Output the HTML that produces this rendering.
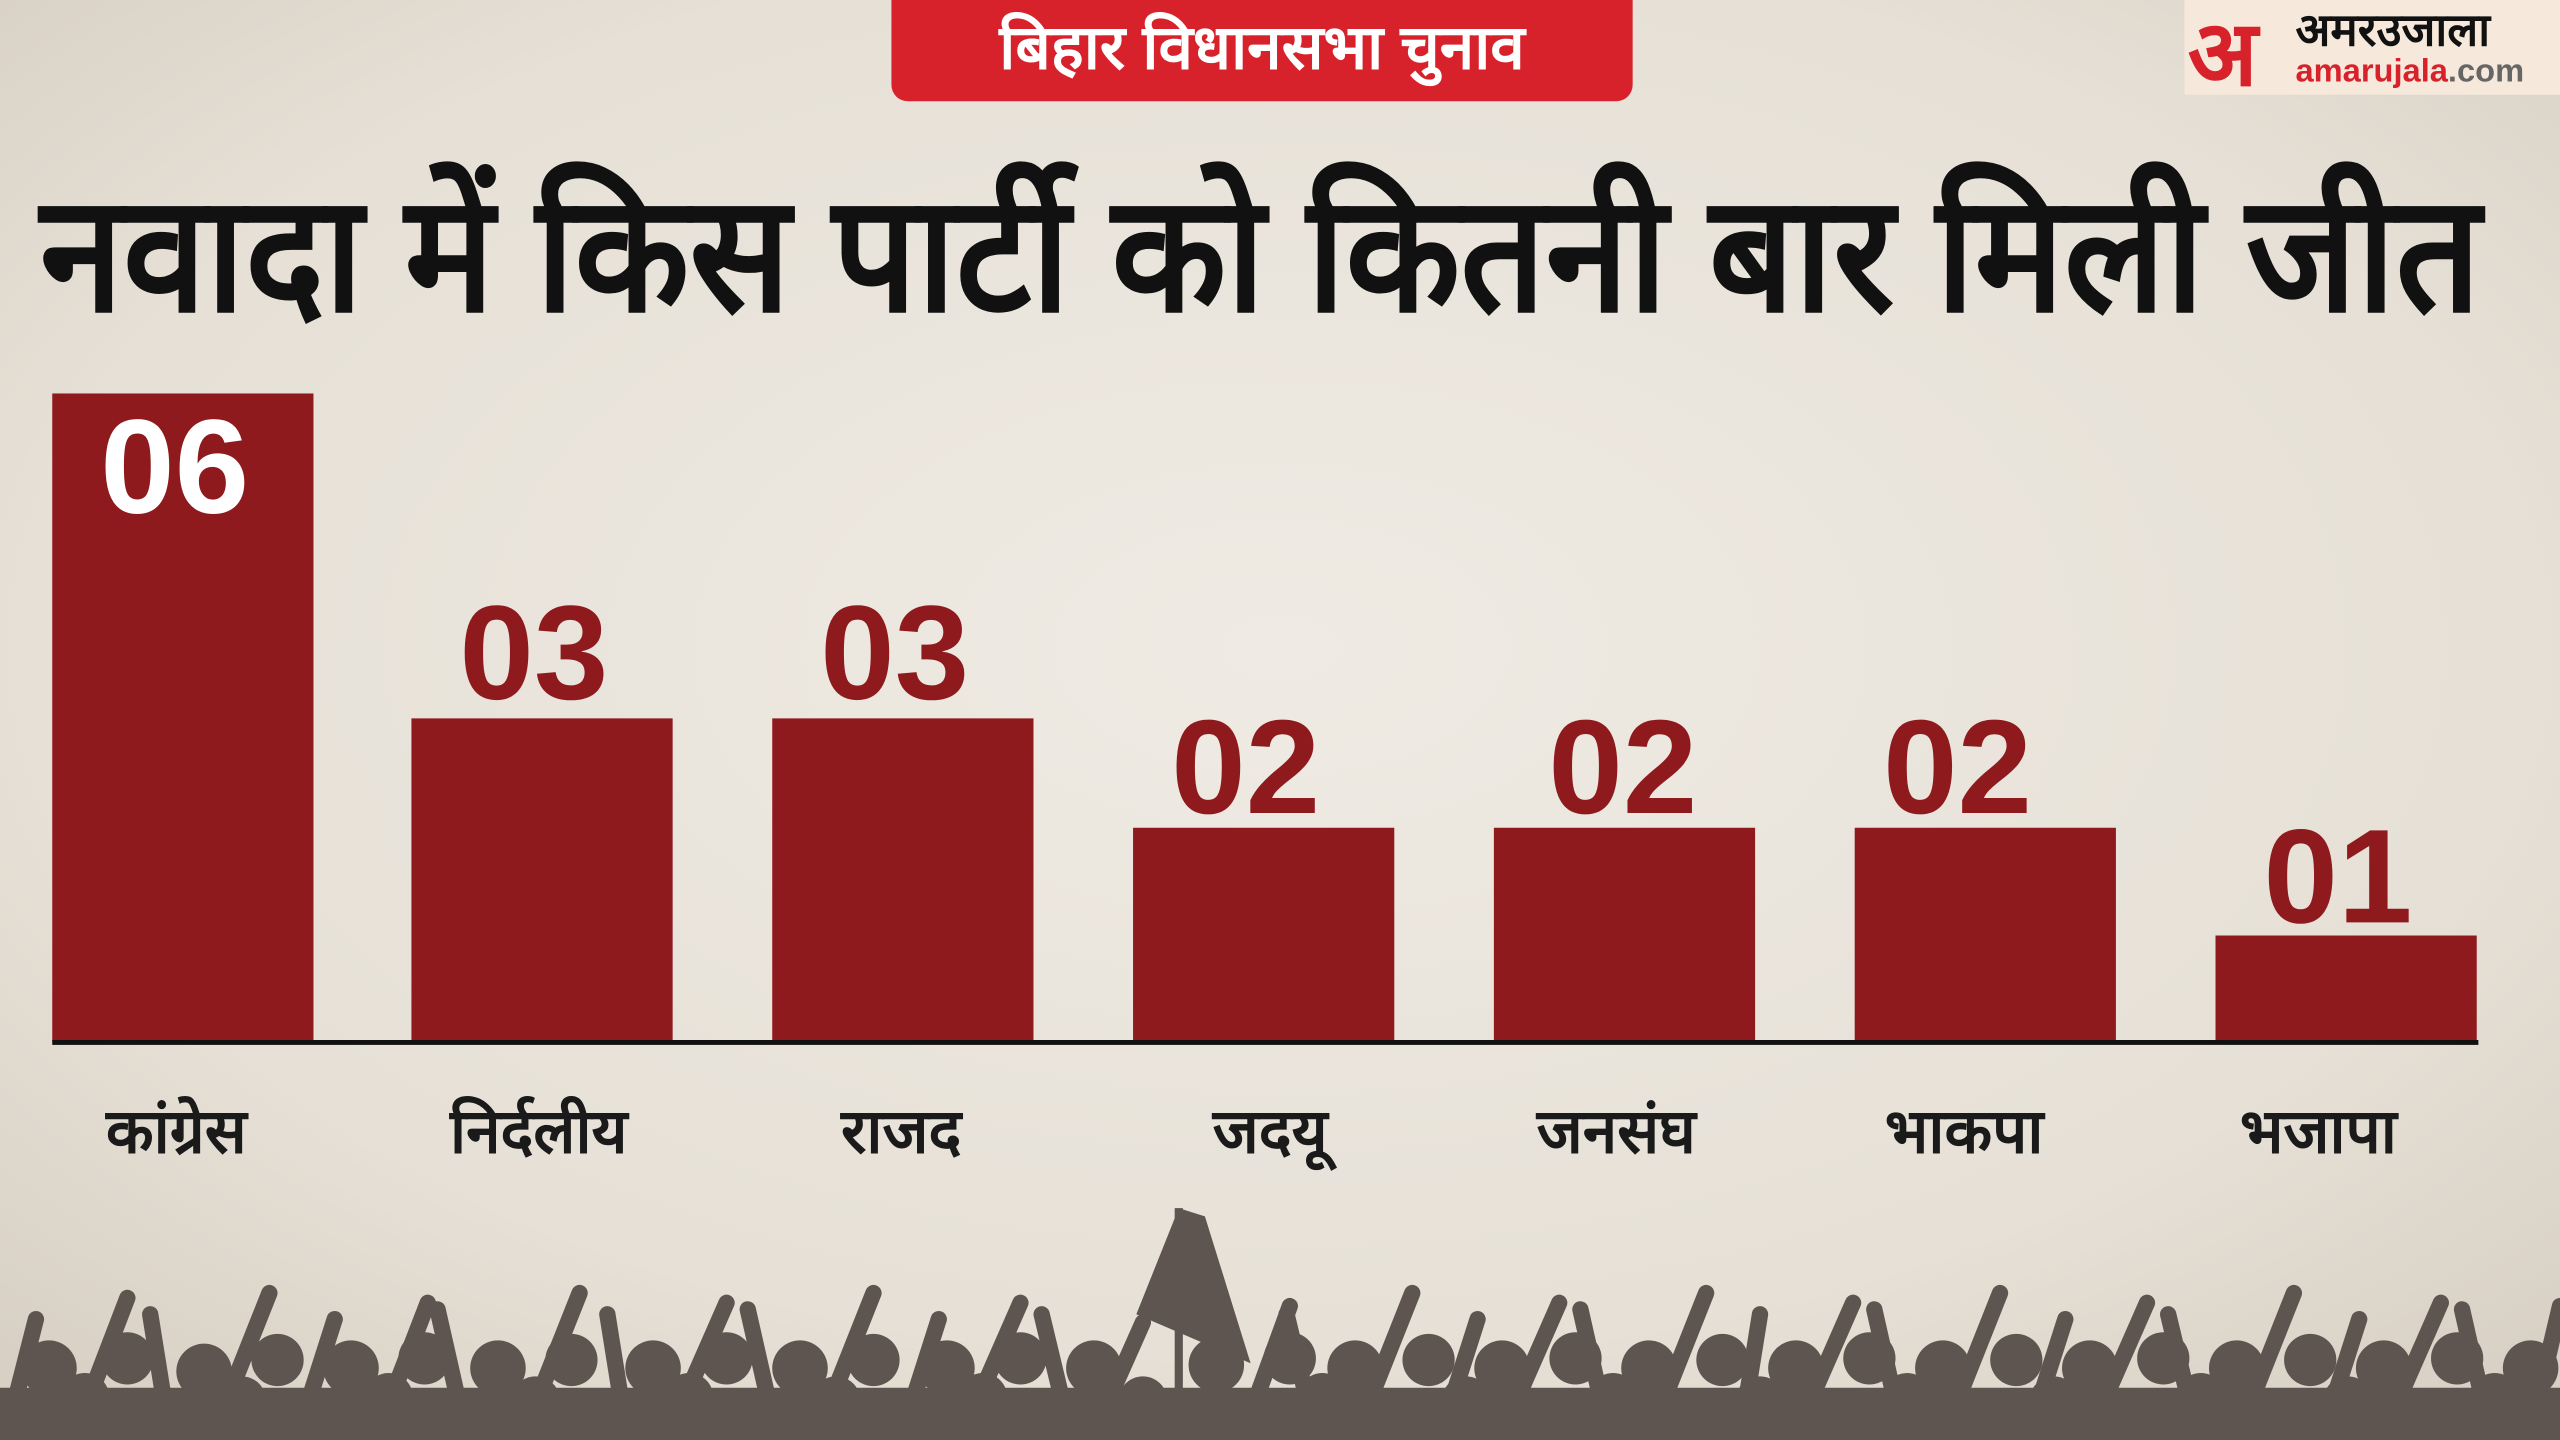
<!DOCTYPE html>
<html><head><meta charset="utf-8"><style>
html,body{margin:0;padding:0;width:2560px;height:1440px;overflow:hidden;background:#e8e3da}
svg{display:block}
text{font-family:"Liberation Sans","Noto Sans CJK SC",sans-serif}
</style></head><body>
<svg width="2560" height="1440" viewBox="0 0 1568 882" preserveAspectRatio="none" xmlns="http://www.w3.org/2000/svg">
<defs>
<radialGradient id="bg" cx="50%" cy="45%" r="70%">
<stop offset="0" stop-color="#efebe4"/><stop offset="0.7" stop-color="#e6e0d6"/><stop offset="1" stop-color="#d8d0c4"/>
</radialGradient>
</defs>
<rect width="1568" height="882" fill="url(#bg)"/>
<rect x="546" y="-10" width="454" height="72" rx="10" fill="#d8222b"/>
<text x="773" y="42" font-size="38" font-weight="bold" fill="#fff" text-anchor="middle">बिहार विधानसभा चुनाव</text>
<rect x="1338" y="0" width="230" height="58" fill="#f6e9dc"/>
<text x="1340" y="52" font-size="56" font-weight="bold" fill="#d8222b">अ</text>
<text x="1406" y="28" font-size="28" font-weight="bold" fill="#111">अमरउजाला</text>
<text x="1406" y="50" font-size="20" font-weight="bold" fill="#d8222b">amarujala<tspan fill="#666">.com</tspan></text>
<text x="772" y="190" font-size="100" font-weight="bold" fill="#111" text-anchor="middle" textLength="1495" lengthAdjust="spacingAndGlyphs">नवादा में किस पार्टी को कितनी बार मिली जीत</text>
<g fill="#8f1a1e">
<rect x="32" y="241" width="160" height="397"/>
<rect x="252" y="440" width="160" height="198"/>
<rect x="473" y="440" width="160" height="198"/>
<rect x="694" y="507" width="160" height="131"/>
<rect x="915" y="507" width="160" height="131"/>
<rect x="1136" y="507" width="160" height="131"/>
<rect x="1357" y="573" width="160" height="65"/>
</g>
<rect x="32" y="637" width="1486" height="3" fill="#111"/>
<g font-size="82" font-weight="bold" text-anchor="middle" fill="#8f1a1e">
<text x="107" y="314" fill="#fff">06</text>
<text x="327" y="428">03</text>
<text x="548" y="428">03</text>
<text x="763" y="498">02</text>
<text x="994" y="498">02</text>
<text x="1199" y="498">02</text>
<text x="1432" y="565">01</text>
</g>
<g font-size="38" font-weight="bold" text-anchor="middle" fill="#1a1a1a">
<text x="108" y="706">कांग्रेस</text>
<text x="330" y="706">निर्दलीय</text>
<text x="552" y="706">राजद</text>
<text x="778" y="706">जदयू</text>
<text x="990" y="706">जनसंघ</text>
<text x="1203" y="706">भाकपा</text>
<text x="1420" y="706">भजापा</text>
</g>
<g fill="#5e5450" stroke="#5e5450">
<polygon points="722,740 696,805 766,835 738,745" stroke="none"/>
<line x1="722" y1="740" x2="722" y2="860" stroke-width="5"/>
<rect x="0" y="850" width="1568" height="40" stroke="none"/>
<g stroke-width="10" stroke-linecap="round">
<path d="M10,855 L22,808 M55,855 L78,795 M100,855 L92,805 M140,855 L165,792 M190,855 L205,808 M240,855 L262,798 M280,855 L268,802 M330,855 L355,792 M380,855 L372,805 M420,855 L445,798 M470,855 L458,802 M510,855 L535,792 M560,855 L575,808 M600,855 L625,798 M650,855 L638,805 M680,855 L700,810 M770,855 L790,800 M800,855 L788,805 M840,855 L865,792 M890,855 L905,808 M930,855 L955,798 M980,855 L968,802 M1020,855 L1045,792 M1070,855 L1078,805 M1110,855 L1135,798 M1160,855 L1148,802 M1200,855 L1225,792 M1250,855 L1265,808 M1290,855 L1315,798 M1340,855 L1328,805 M1380,855 L1405,792 M1430,855 L1445,808 M1470,855 L1495,798 M1520,855 L1508,802 M1555,855 L1568,800"/>
</g>
<g stroke="none">
<circle cx="30" cy="838" r="17"/><circle cx="78" cy="832" r="16"/><circle cx="125" cy="840" r="17"/><circle cx="170" cy="833" r="16"/><circle cx="215" cy="838" r="17"/><circle cx="260" cy="832" r="16"/><circle cx="305" cy="838" r="17"/><circle cx="350" cy="833" r="16"/><circle cx="400" cy="838" r="17"/><circle cx="445" cy="832" r="16"/><circle cx="490" cy="838" r="17"/><circle cx="535" cy="833" r="16"/><circle cx="580" cy="838" r="17"/><circle cx="625" cy="832" r="16"/><circle cx="670" cy="838" r="17"/><circle cx="745" cy="836" r="17"/><circle cx="790" cy="832" r="16"/><circle cx="830" cy="838" r="17"/><circle cx="875" cy="833" r="16"/><circle cx="920" cy="838" r="17"/><circle cx="965" cy="832" r="16"/><circle cx="1010" cy="838" r="17"/><circle cx="1055" cy="833" r="16"/><circle cx="1100" cy="838" r="17"/><circle cx="1145" cy="832" r="16"/><circle cx="1190" cy="838" r="17"/><circle cx="1235" cy="833" r="16"/><circle cx="1280" cy="838" r="17"/><circle cx="1325" cy="832" r="16"/><circle cx="1370" cy="838" r="17"/><circle cx="1415" cy="833" r="16"/><circle cx="1460" cy="838" r="17"/><circle cx="1505" cy="832" r="16"/><circle cx="1550" cy="838" r="17"/>
<circle cx="52" cy="856" r="15"/><circle cx="148" cy="858" r="15"/><circle cx="238" cy="856" r="15"/><circle cx="328" cy="858" r="15"/><circle cx="422" cy="856" r="15"/><circle cx="512" cy="858" r="15"/><circle cx="602" cy="856" r="15"/><circle cx="700" cy="858" r="15"/><circle cx="810" cy="856" r="15"/><circle cx="898" cy="858" r="15"/><circle cx="988" cy="856" r="15"/><circle cx="1078" cy="858" r="15"/><circle cx="1168" cy="856" r="15"/><circle cx="1258" cy="858" r="15"/><circle cx="1348" cy="856" r="15"/><circle cx="1438" cy="858" r="15"/><circle cx="1528" cy="856" r="15"/>
</g>
</g>
</svg>
</body></html>
